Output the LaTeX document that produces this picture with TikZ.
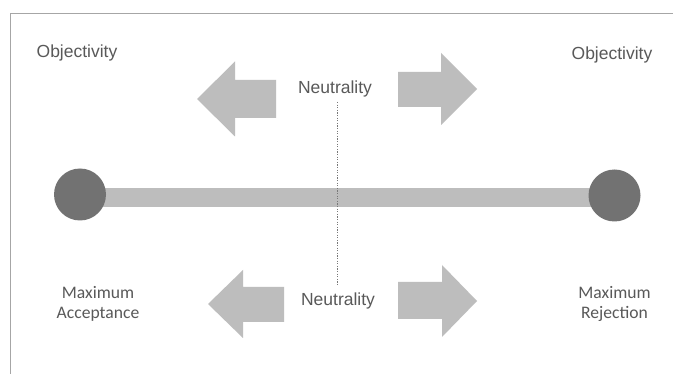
\documentclass[tikz,border=0pt]{standalone}
\usepackage{fontspec}
\newfontfamily\arialf{Liberation Sans}
\newfontfamily\calf{Carlito}
\definecolor{txtgray}{HTML}{595959}
\definecolor{arrgray}{HTML}{BDBDBD}
\definecolor{dotgray}{HTML}{787878}
\definecolor{framegray}{HTML}{A6A6A6}
\tikzset{
  arrowshape/.style={fill=arrgray, draw=none},
  lbl/.style={text=txtgray, inner sep=0pt, font=\arialf\fontsize{17.5}{21}\selectfont},
  lblc/.style={text=txtgray, inner sep=0pt, align=center, font=\calf\fontsize{17.6}{20}\selectfont},
  endcircle/.style={circle, fill=dotgray!95!black, draw=none, minimum size=52pt, inner sep=0pt},
  barline/.style={draw=arrgray, line width=18.5pt},
  divider/.style={draw=dotgray, line width=0.8pt, dash pattern=on 1.3pt off 1.3pt},
  framel/.style={draw=framegray, line width=0.9pt}
}
\begin{document}
\begin{tikzpicture}[x=1pt, y=-1pt]
\useasboundingbox (0,0) rectangle (673,374);
\fill[white] (0,0) rectangle (673,374);
% frame
\coordinate (fTR) at (673,13);
\coordinate (fTL) at (10,13);
\coordinate (fBL) at (10,374);
\draw[framel] (fTR) -- (fTL) -- (fBL);
% bar and end circles
\coordinate (barL) at (80,197.5);
\coordinate (barR) at (614,197.5);
\draw[barline] (barL) -- (barR);
\node[endcircle] (cL) at (80,194.5) {};
\node[endcircle] (cR) at (614.5,195.5) {};
% divider
\coordinate (dTop) at (337,102);
\coordinate (dBot) at (337,285);
\draw[divider] (dTop) -- (dBot);
% upper arrows
\fill[arrowshape] (197,99) -- (235,61.5) -- (235,80) -- (276,80) -- (276,118) -- (235,118) -- (235,136.5) -- cycle;
\fill[arrowshape] (477,89) -- (441,53) -- (441,72) -- (398,72) -- (398,107) -- (441,107) -- (441,125) -- cycle;
% lower arrows
\fill[arrowshape] (208,304) -- (243,270) -- (243,287) -- (284,287) -- (284,322) -- (243,322) -- (243,338) -- cycle;
\fill[arrowshape] (477,301) -- (442,265) -- (442,282) -- (398,282) -- (398,319) -- (442,319) -- (442,337) -- cycle;
% labels
\node[lbl] (objL) at (77,53) {Objectivity};
\node[lbl] (objR) at (612,55) {Objectivity};
\node[lbl] (neuT) at (335,89) {Neutrality};
\node[lbl] (neuB) at (338,301) {Neutrality};
\node[lblc] (maxA) at (98,304) {Maximum\\Acceptance};
\node[lblc] (maxR) at (614.5,304) {Maximum\\Rejection};
\end{tikzpicture}
\end{document}
